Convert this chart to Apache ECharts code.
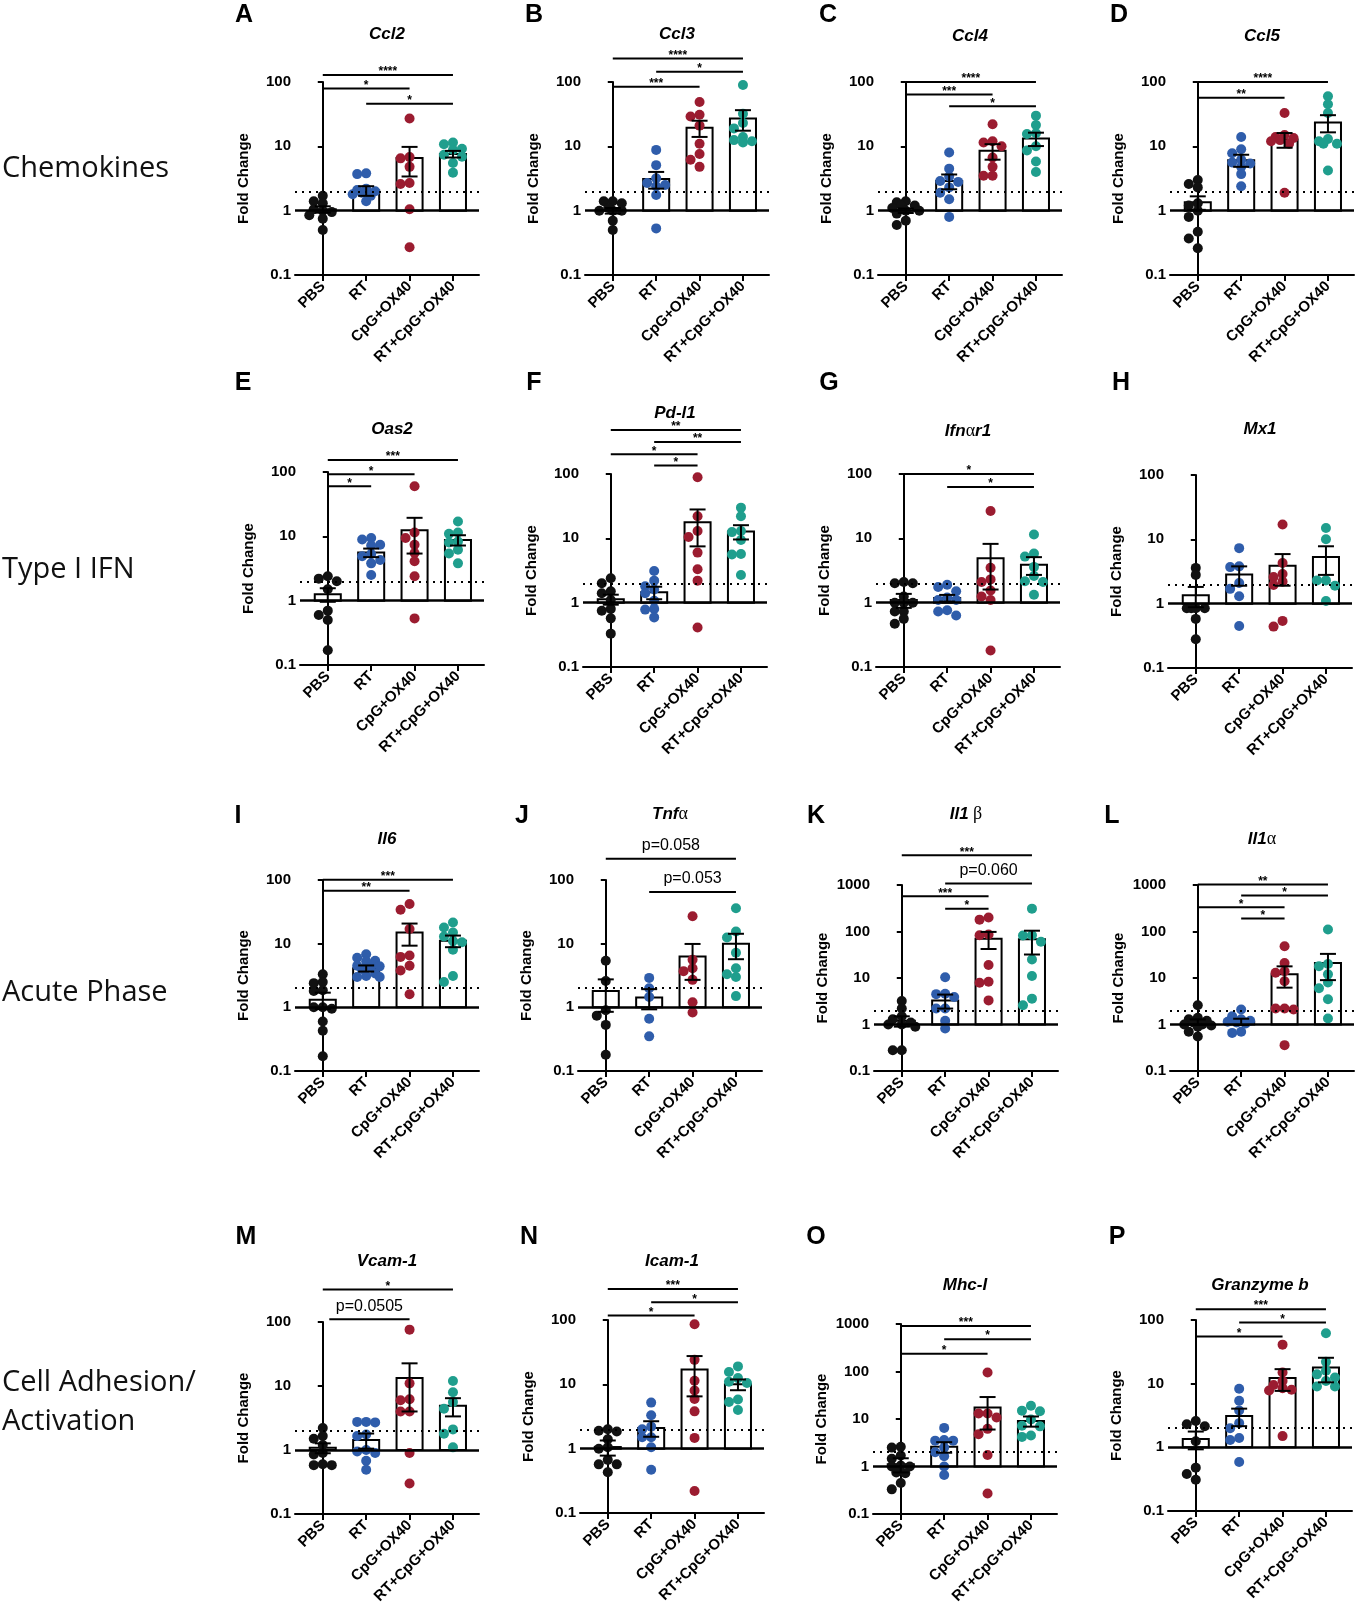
<!DOCTYPE html>
<html><head><meta charset="utf-8">
<script src="https://cdn.jsdelivr.net/npm/echarts@6/dist/echarts.min.js"></script>
<style>html,body{margin:0;padding:0;background:#fff}#c{width:1359px;height:1610px}</style>
</head><body><div id="c"></div>
<script>
// ---------------- DATA ----------------
const groups = ['PBS', 'RT', 'CpG+OX40', 'RT+CpG+OX40'];
const groupColors = ['#111111', '#2f5dab', '#9b1c30', '#1f9e8d'];

// A Ccl2
const A_pts = [[1.7,1.4,1.3,1.05,1.0,0.95,0.85,0.75,0.5],[3.8,3.7,2.2,2.1,2.0,1.9,1.8,1.7,1.4],[27,6.8,6.5,4.8,2.7,2.6,1.05,0.27],[11.5,10.8,9.2,8.8,7.4,6.9,5.5,3.9]];
const A_mean = [1.05,2.05,6.6,7.6];
const A_sem = [0.12,0.35,3.2,0.9];
const A_sig = [[0,3,'****',128],[0,2,'*',79],[1,3,'*',46]];
// B Ccl3
const B_pts = [[1.4,1.4,1.3,1.1,1.0,1.0,1.0,0.7,0.5],[8.8,5.1,3.2,2.7,2.5,2.4,1.75,0.53],[49,31,29,21,11,7.6,6.2,4.8],[90,32,23,19,14,12.5,12,11.5]];
const B_mean = [1.0,3.1,19.5,27];
const B_sem = [0.1,0.9,5.5,9.5];
const B_sig = [[0,3,'****',232],[1,3,'*',144],[0,2,'***',84]];
// C Ccl4
const C_pts = [[1.4,1.35,1.2,1.2,1.1,1.0,1.0,0.9,0.7,0.6],[8.0,4.5,3.4,2.9,2.8,2.3,1.9,1.5,0.8],[22,12,11.5,10,6.7,4.8,3.5,3.5],[30,21.5,16,15.5,10,8.6,5.8,4.0]];
const C_mean = [1.0,2.9,8.5,13.2];
const C_sem = [0.08,0.75,2.3,3.1];
const C_sig = [[0,3,'****',100],[0,2,'***',64],[1,3,'*',42]];
// D Ccl5
const D_pts = [[3.0,2.6,2.3,1.3,1.2,1.0,0.8,0.47,0.37,0.26],[14,9,7.8,6.2,5.6,5.4,4.8,3.7,2.4],[33,15,14,13.5,12.5,12,11,1.9],[60,45,33,13,12,11,11,4.2]];
const D_mean = [1.35,6.1,12.8,23.5];
const D_sem = [0.32,1.3,3.3,7];
const D_sig = [[0,3,'****',100],[0,2,'**',57]];
// E Oas2
const E_pts = [[2.4,2.2,2.0,1.5,0.7,0.6,0.5,0.17],[9.4,8.9,7.4,7.2,5.3,4.9,4.3,3.8,2.5],[60,11.5,9.4,7.4,5.5,4.1,2.4,0.53],[17,11.5,11,8.3,8,6.2,5.4,3.8]];
const E_mean = [1.26,5.6,12.4,8.8];
const E_sem = [0.3,0.85,7,1.6];
const E_sig = [[0,3,'***',154],[0,2,'*',92],[0,1,'*',60]];
// F Pd-l1
const F_pts = [[2.4,2.0,1.5,1.4,1.1,0.8,0.75,0.57,0.33],[3.1,2.2,1.8,1.6,1.4,1.07,0.8,0.78,0.59],[89,22,13,10.5,6,3.3,2.2,0.41],[30,22,13,12.5,9.4,5.7,5.6,2.7]];
const F_mean = [1.13,1.45,17.8,12.8];
const F_sem = [0.2,0.32,10.3,3.2];
const F_sig = [[0,3,'**',485],[1,3,'**',314],[0,2,'*',203],[1,2,'*',136]];
// G Ifnar1
const G_pts = [[2.1,2.0,2.0,1.25,1.0,1.0,1.0,0.73,0.73,0.56,0.47],[1.9,1.75,1.5,1.2,1.1,1.1,0.76,0.73,0.63],[26.6,3.5,2.3,2.1,1.55,1.25,1.1,0.18],[11.5,5.8,5.2,3.6,2.6,2.15,2.1,1.33]];
const G_mean = [1.1,1.18,4.9,3.9];
const G_sem = [0.27,0.14,3.3,1.2];
const G_sig = [[0,3,'*',100],[1,3,'*',63]];
// H Mx1
const H_pts = [[3.6,2.8,0.85,0.85,0.85,0.85,0.58,0.28],[7.3,3.8,3.7,2.1,1.7,1.3,0.45],[17,4.3,2.9,2.6,2.2,1.95,0.54,0.44],[15,10,2.3,2.3,1.9,1.1]];
const H_mean = [1.35,2.85,3.9,5.3];
const H_sem = [0.47,0.95,2.0,2.5];
const H_sig = [];
// I Il6
const I_pts = [[3.3,2.5,2.4,1.85,1.8,1.0,1.0,0.95,0.6,0.43,0.17],[6.8,6.0,5.4,5.3,4.5,4.4,4.3,4.0,3.4,3.1,3.0,3.0],[42,34,17,6.5,6.2,4.5,3.8,1.6],[21.5,18,15,13,11,10.5,8,3.1,2.5]];
const I_mean = [1.32,4.1,15,11.1];
const I_sem = [0.38,0.45,5.7,2.3];
const I_sig = [[0,3,'***',101],[0,2,'**',68]];
// J Tnfa
const J_pts = [[5.4,2.6,0.9,0.74,0.53,0.18],[2.9,2.0,1.45,0.66,0.35],[27,5.6,4.1,3.7,2.7,1.2,0.83],[36,15.5,12.5,7.2,4.1,3.3,3.0,1.5]];
const J_mean = [1.8,1.43,6.3,10];
const J_sem = [0.95,0.5,3.6,4.3];
const J_sig = [[0,3,'p=0.058',216],[1,3,'p=0.053',65]];
// K Il1b
const K_pts = [[3.2,2.2,1.5,1.3,1.1,1.0,1.0,0.9,0.28,0.28],[10.4,4.6,4.5,3.9,2.2,2.2,1.2,0.82],[200,180,86,83,19,8.3,7.9,3.3],[310,83,82,60,25,11,3.6,2.6]];
const K_mean = [1.2,3.3,70,68];
const K_sem = [0.3,1.1,28,36];
const K_sig = [[0,3,'***',4370],[1,3,'p=0.060',1075],[0,2,'***',574],[1,2,'*',307]];
// L Il1a
const L_pts = [[2.6,1.4,1.3,1.2,1.1,1.0,1.0,0.95,0.9,0.7,0.55],[2.1,1.5,1.3,1.2,1.15,1.1,1.05,0.7,0.66],[48,21,14,13,8.5,2.2,2.2,2.1,0.36],[110,20,18,12,8,6,3.5,1.35]];
const L_mean = [1.14,1.15,12,21];
const L_sem = [0.15,0.18,5.8,12];
const L_sig = [[0,3,'**',1030],[1,3,'*',593],[0,2,'*',333],[1,2,'*',190]];
// M Vcam-1
const M_pts = [[2.2,1.65,1.5,1.2,0.9,0.85,0.6,0.58,0.58],[2.75,2.75,2.7,1.75,1.65,1.0,0.95,0.9,0.68,0.49],[76,11,6.2,6,4,4,0.9,0.3],[12,8,5.6,4.4,2.1,1.8,1.1]];
const M_mean = [1.08,1.43,13.3,4.9];
const M_sem = [0.19,0.38,9.3,1.55];
const M_sig = [[0,3,'*',322],[0.15,2,'p=0.0505',110]];
// N Icam-1
const N_pts = [[2.0,1.9,1.85,1.4,1.05,1.0,0.67,0.57,0.57,0.43],[5.2,3.3,2.2,2.0,1.5,1.5,1.05,0.47],[86,24,11.4,8,5.9,3.8,1.47,0.22],[19,15.5,12.5,11,10.5,5.8,5.3,4.0]];
const N_mean = [1.06,2.1,17,10];
const N_sem = [0.28,0.57,10.5,1.9];
const N_sig = [[0,3,'***',304],[1,3,'*',188],[0,2,'*',117]];
// O Mhc-I
const O_pts = [[2.6,2.5,1.7,1.45,1.05,1.0,1.0,0.75,0.72,0.45,0.33],[6.5,3.6,3.5,3.5,2.5,2.0,1.65,1.0,0.66],[95,13,13,10.8,6.2,4.8,1.75,0.27],[19,15,14.5,9.8,7.2,7,4.5,4.2]];
const O_mean = [1.12,2.6,17.5,9.1];
const O_sem = [0.37,0.65,11.5,2.2];
const O_sig = [[0,3,'***',910],[1,3,'*',480],[0,2,'*',237]];
// P Granzyme b
const P_pts = [[2.6,2.3,2.15,1.25,0.48,0.38,0.31],[8.3,5.4,3.8,2.4,2.0,1.4,1.3,0.59],[41,15,11,9.5,8.5,8,7.8,1.5],[62,22,16,14,12.5,11,9,9]];
const P_mean = [1.35,3.1,12.3,18];
const P_sem = [0.42,0.95,4.6,7.5];
const P_sig = [[0,3,'***',148],[1,3,'*',91],[0,2,'*',55]];

const rowLabels = [['Chemokines'], ['Type I IFN'], ['Acute Phase'], ['Cell Adhesion/', 'Activation']];

const panels = [
  {key:'A', title:'{i|Ccl2}', pts:A_pts, mean:A_mean, sem:A_sem, sig:A_sig, ymax:100},
  {key:'B', title:'{i|Ccl3}', pts:B_pts, mean:B_mean, sem:B_sem, sig:B_sig, ymax:100},
  {key:'C', title:'{i|Ccl4}', pts:C_pts, mean:C_mean, sem:C_sem, sig:C_sig, ymax:100},
  {key:'D', title:'{i|Ccl5}', pts:D_pts, mean:D_mean, sem:D_sem, sig:D_sig, ymax:100},
  {key:'E', title:'{i|Oas2}', pts:E_pts, mean:E_mean, sem:E_sem, sig:E_sig, ymax:100},
  {key:'F', title:'{i|Pd-l1}', pts:F_pts, mean:F_mean, sem:F_sem, sig:F_sig, ymax:100},
  {key:'G', title:'{i|Ifn}{g|α}{i|r1}', pts:G_pts, mean:G_mean, sem:G_sem, sig:G_sig, ymax:100},
  {key:'H', title:'{i|Mx1}', pts:H_pts, mean:H_mean, sem:H_sem, sig:H_sig, ymax:100},
  {key:'I', title:'{i|Il6}', pts:I_pts, mean:I_mean, sem:I_sem, sig:I_sig, ymax:100},
  {key:'J', title:'{i|Tnf}{g|α}', pts:J_pts, mean:J_mean, sem:J_sem, sig:J_sig, ymax:100},
  {key:'K', title:'{i|Il1}{g| β}', pts:K_pts, mean:K_mean, sem:K_sem, sig:K_sig, ymax:1000},
  {key:'L', title:'{i|Il1}{g|α}', pts:L_pts, mean:L_mean, sem:L_sem, sig:L_sig, ymax:1000},
  {key:'M', title:'{i|Vcam-1}', pts:M_pts, mean:M_mean, sem:M_sem, sig:M_sig, ymax:100},
  {key:'N', title:'{i|Icam-1}', pts:N_pts, mean:N_mean, sem:N_sem, sig:N_sig, ymax:100},
  {key:'O', title:'{i|Mhc-I}', pts:O_pts, mean:O_mean, sem:O_sem, sig:O_sig, ymax:1000},
  {key:'P', title:'{i|Granzyme b}', pts:P_pts, mean:P_mean, sem:P_sem, sig:P_sig, ymax:100}
];

// ---------------- LAYOUT ----------------
const W = 184;
// left, top, bottom, titleY, letterX, letterY
const layout = {
  A:[295,82,275,34,244,15], B:[585,82,275,34,534,15], C:[878,82,275,36,828,15], D:[1170,82,275,36,1119,15],
  E:[300,472,665,429,243,383], F:[583,474,667,413,534,383], G:[876,474,667,431,829,383], H:[1168,475,668,429,1121,383],
  I:[295,880,1071,839,238,816], J:[578,880,1071,814,522,816], K:[874,885,1071,814,816,816], L:[1170,885,1071,839,1112,816],
  M:[295,1322,1514,1261,246,1237], N:[580,1320,1513,1261,529,1237], O:[873,1324,1514,1285,816,1237], P:[1168,1320,1511,1285,1117,1237]
};
const rowLabelY = [[169],[570],[993],[1383,1422]];

const FONT = '"Liberation Sans", Arial, Helvetica, sans-serif';
const XMIN = -0.64, XMAX = 3.6;

function swarm(vals, ppd, ppu) {
  const D = 7;
  const placed = [];
  const res = new Array(vals.length);
  const order = vals.map((v, k) => k).sort((a, b) => vals[b] - vals[a]);
  const cands = [0, -9, 9, -4.5, 4.5, -13.5, 13.5];
  order.forEach(k => {
    const py = Math.log10(vals[k]) * ppd;
    let chosen = null, best = -1, bestC = 0;
    for (const c of cands) {
      let md = Infinity;
      for (const q of placed) {
        const dx = q[0] - c, dy = q[1] - py;
        md = Math.min(md, Math.sqrt(dx * dx + dy * dy));
      }
      if (md >= D) { chosen = c; break; }
      if (md > best) { best = md; bestC = c; }
    }
    if (chosen === null) chosen = bestC;
    placed.push([chosen, py]);
    res[k] = chosen / ppu;
  });
  return res;
}

const grids = [], xAxes = [], yAxes = [], series = [], graphics = [];

panels.forEach((p, i) => {
  const [left, top, bottom, titleY, lx, ly] = layout[p.key];
  const height = bottom - top;
  const ndec = Math.log10(p.ymax) + 1;
  const ppd = height / ndec;
  const ppu = W / (XMAX - XMIN);
  grids.push({left: left, top: top, width: W, height: height});
  xAxes.push({
    type: 'value', gridIndex: i, min: XMIN, max: XMAX,
    axisLine: {show: true, onZero: false, lineStyle: {color: '#000', width: 2}},
    axisTick: {show: true, customValues: [0, 1, 2, 3], length: 6, lineStyle: {color: '#000', width: 2}},
    axisLabel: {customValues: [0, 1, 2, 3], formatter: v => groups[Math.round(v)], rotate: 45,
      fontWeight: 'bold', fontSize: 15, color: '#000', fontFamily: FONT, margin: 9},
    splitLine: {show: false}
  });
  yAxes.push({
    type: 'log', logBase: 10, gridIndex: i, min: 0.1, max: p.ymax,
    name: 'Fold Change', nameLocation: 'middle', nameGap: 44,
    nameTextStyle: {fontWeight: 'bold', fontSize: 15, color: '#000', fontFamily: FONT},
    axisLine: {show: true, lineStyle: {color: '#000', width: 2}},
    axisTick: {show: true, length: 5, lineStyle: {color: '#000', width: 2}},
    minorTick: {show: false},
    axisLabel: {formatter: v => { const r = Math.round(Math.log10(v)); return r < 0 ? '0.1' : String(Math.pow(10, r)); },
      fontWeight: 'bold', fontSize: 15, color: '#000', fontFamily: FONT, margin: 4},
    splitLine: {show: false}
  });

  // bars
  series.push({
    type: 'custom', xAxisIndex: i, yAxisIndex: i, z: 2, silent: true, clip: false,
    data: p.mean.map((m, g) => [g, m]),
    renderItem: (params, api) => {
      const g = api.value(0), m = api.value(1);
      const base = api.coord([g, 1]), tp = api.coord([g, m]);
      const bw = ppu * 0.6;
      return {type: 'rect', shape: {x: base[0] - bw / 2, y: tp[1], width: bw, height: base[1] - tp[1]},
        style: {fill: '#fff', stroke: '#000', lineWidth: 2}};
    }
  });

  // points
  p.pts.forEach((vals, g) => {
    const offs = swarm(vals, ppd, ppu);
    const s = {
      type: 'scatter', xAxisIndex: i, yAxisIndex: i, z: 3, silent: true,
      symbolSize: 10, itemStyle: {color: groupColors[g], opacity: 1},
      data: vals.map((v, k) => [g + offs[k], v])
    };
    if (g === 0) {
      s.markLine = {
        silent: true, symbol: 'none', label: {show: false}, animation: false,
        data: [
          {yAxis: 1, lineStyle: {type: 'solid', width: 2.5, color: '#000'}},
          {yAxis: 2, lineStyle: {type: [2, 5], width: 2, color: '#000'}}
        ]
      };
    }
    series.push(s);
  });

  // error bars
  series.push({
    type: 'custom', xAxisIndex: i, yAxisIndex: i, z: 4, silent: true, clip: false,
    data: p.mean.map((m, g) => [g, m, p.sem[g]]),
    renderItem: (params, api) => {
      const g = api.value(0), m = api.value(1), s = api.value(2);
      const up = api.coord([g, m + s]), lo = api.coord([g, m - s]);
      const cw = 8, st = {stroke: '#000', lineWidth: 2};
      return {type: 'group', children: [
        {type: 'line', shape: {x1: up[0], y1: up[1], x2: lo[0], y2: lo[1]}, style: st},
        {type: 'line', shape: {x1: up[0] - cw, y1: up[1], x2: up[0] + cw, y2: up[1]}, style: st},
        {type: 'line', shape: {x1: lo[0] - cw, y1: lo[1], x2: lo[0] + cw, y2: lo[1]}, style: st}
      ]};
    }
  });

  // significance brackets
  if (p.sig.length) {
    series.push({
      type: 'custom', xAxisIndex: i, yAxisIndex: i, z: 5, silent: true, clip: false,
      encode: {x: [0, 1], y: 2},
      data: p.sig.map(s => [s[0], s[1], s[3]]),
      renderItem: (params, api) => {
        const s = p.sig[params.dataIndex];
        const a = api.coord([s[0], s[3]]), b = api.coord([s[1], s[3]]);
        const isP = s[2].charAt(0) === 'p';
        return {type: 'group', children: [
          {type: 'line', shape: {x1: a[0], y1: a[1], x2: b[0], y2: a[1]}, style: {stroke: '#000', lineWidth: 2}},
          {type: 'text', x: (a[0] + b[0]) / 2, y: a[1] - (isP ? 13 : 3),
            style: {text: s[2], textAlign: 'center', textVerticalAlign: 'middle',
              font: isP ? '16px ' + FONT : 'bold 12px ' + FONT, fill: '#000'}}
        ]};
      }
    });
  }

  // title and letter
  graphics.push({type: 'text', x: left + W / 2, y: titleY, silent: true,
    style: {text: p.title, textAlign: 'center', textVerticalAlign: 'middle',
      rich: {i: {fontStyle: 'italic', fontWeight: 'bold', fontSize: 17, fontFamily: FONT, fill: '#000'},
             g: {fontStyle: 'normal', fontWeight: 'normal', fontSize: 18, fontFamily: '"Liberation Serif", serif', fill: '#000'}}}});
  graphics.push({type: 'text', x: lx, y: ly, silent: true,
    style: {text: p.key, textAlign: 'center', textVerticalAlign: 'middle',
      font: 'bold 25px ' + FONT, fill: '#000'}});
});

rowLabels.forEach((lines, r) => {
  lines.forEach((t, k) => {
    graphics.push({type: 'text', x: 2, y: rowLabelY[r][k], silent: true,
      style: {text: t, textAlign: 'left', textVerticalAlign: 'middle',
        font: '29px "Open Sans", "Noto Sans", sans-serif', fill: '#111'}});
  });
});

const chart = echarts.init(document.getElementById('c'), null, {renderer: 'canvas'});
chart.setOption({
  animation: false,
  backgroundColor: '#ffffff',
  textStyle: {fontFamily: FONT},
  grid: grids, xAxis: xAxes, yAxis: yAxes, series: series, graphic: graphics
});
</script></body></html>
